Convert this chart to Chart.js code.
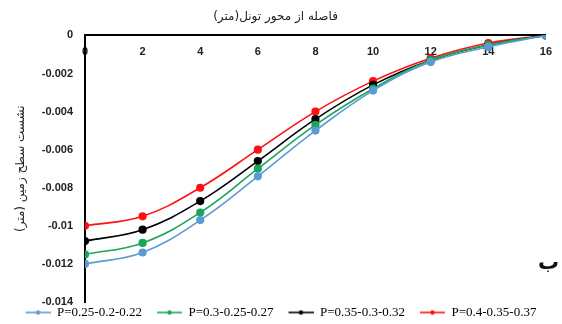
<!DOCTYPE html>
<html>
<head>
<meta charset="utf-8">
<script src="https://cdn.jsdelivr.net/npm/chart.js@4.4.0/dist/chart.umd.min.js"></script>
<style>
  html, body { margin: 0; padding: 0; background: #fff; }
  #wrap { position: relative; width: 562px; height: 324px; overflow: hidden; }
  .panel-mark {
    position: absolute; right: 3px; top: 250px;
    font: bold 21px "DejaVu Sans", sans-serif; color: #111;
  }
</style>
</head>
<body>
<div id="wrap">
  <canvas id="settle" width="562" height="324"></canvas>
  <div class="panel-mark">ب</div>
</div>
<script>
// distance from tunnel axis (m)
const distances = [0, 2, 4, 6, 8, 10, 12, 14, 16];

// surface settlement (m) for each P set
const seriesLabels = ["P=0.25-0.2-0.22", "P=0.3-0.25-0.27", "P=0.35-0.3-0.32", "P=0.4-0.35-0.37"];
const settleA = [-0.0120, -0.0114, -0.0097, -0.0074, -0.0050, -0.0029, -0.0014, -0.0006, 0];
const settleB = [-0.0115, -0.0109, -0.0093, -0.0070, -0.0047, -0.0028, -0.0013, -0.0005, 0];
const settleC = [-0.0108, -0.0102, -0.0087, -0.0066, -0.0044, -0.0026, -0.0013, -0.0005, 0];
const settleD = [-0.0100, -0.0095, -0.0080, -0.0060, -0.0040, -0.0024, -0.0012, -0.0004, 0];
const seriesColors = ["#5b9bd5", "#1aa65a", "#000000", "#ff1010"];

const yTicks = { min: -0.014, max: 0, step: 0.002 };

const toPoints = (vals) => vals.map((v, i) => ({ x: distances[i], y: v }));

// small line+dot swatch used as legend marker
const swatch = (color) => {
  const c = document.createElement("canvas");
  c.width = 36;
  c.height = 8;
  const g = c.getContext("2d");
  g.strokeStyle = color;
  g.lineWidth = 1.6;
  g.beginPath();
  g.moveTo(11, 4);
  g.lineTo(36, 4);
  g.stroke();
  g.fillStyle = color;
  g.beginPath();
  g.arc(23.5, 4, 2.2, 0, Math.PI * 2);
  g.fill();
  return c;
};

const allSeries = [settleA, settleB, settleC, settleD];

const ctx = document.getElementById("settle").getContext("2d");

new Chart(ctx, {
  type: "line",
  data: {
    datasets: allSeries.map((vals, i) => ({
      label: seriesLabels[i],
      data: toPoints(vals),
      borderColor: seriesColors[i],
      backgroundColor: seriesColors[i],
      borderWidth: 1.6,
      pointRadius: 3.3,
      pointHoverRadius: 3.3,
      tension: 0.4,
      fill: false,
    })),
  },
  options: {
    responsive: false,
    maintainAspectRatio: false,
    animation: false,
    layout: { padding: { left: 0, right: 11, top: 0, bottom: -5 } },
    plugins: {
      tooltip: { enabled: false },
      title: {
        display: true,
        text: "فاصله از محور تونل(متر)",
        color: "#222",
        font: { family: "DejaVu Sans", size: 12, weight: "normal" },
        padding: { top: 10, bottom: 11 },
      },
      legend: {
        position: "bottom",
        labels: {
          usePointStyle: true,
          pointStyleWidth: 36,
          padding: 4,
          color: "#111",
          font: { family: "Liberation Serif", size: 13 },
          generateLabels: (chart) =>
            chart.data.datasets.map((ds, i) => ({
              text: ds.label,
              fillStyle: ds.borderColor,
              strokeStyle: ds.borderColor,
              pointStyle: swatch(ds.borderColor),
              datasetIndex: i,
              hidden: false,
            })),
        },
      },
    },
    scales: {
      x: {
        type: "linear",
        position: { y: 0 },
        min: 0,
        max: 16,
        grid: { display: false, drawTicks: false },
        border: { display: true, color: "#000", width: 2 },
        ticks: {
          stepSize: 2,
          padding: 10,
          color: "#222",
          font: { family: "Liberation Sans", size: 11, weight: "bold" },
        },
      },
      y: {
        min: yTicks.min,
        max: yTicks.max,
        grid: { display: false, drawTicks: false },
        border: { display: true, color: "#000", width: 2 },
        afterFit: (scale) => { scale.width = 85; },
        title: {
          display: true,
          text: "نشست سطح زمین (متر)",
          color: "#222",
          font: { family: "DejaVu Sans", size: 12 },
          padding: { top: 14, bottom: 0 },
        },
        ticks: {
          stepSize: yTicks.step,
          padding: 12,
          color: "#222",
          font: { family: "Liberation Sans", size: 11, weight: "bold" },
          callback: (v) => String(Number(v.toFixed(3))),
        },
      },
    },
  },
});
</script>
</body>
</html>
